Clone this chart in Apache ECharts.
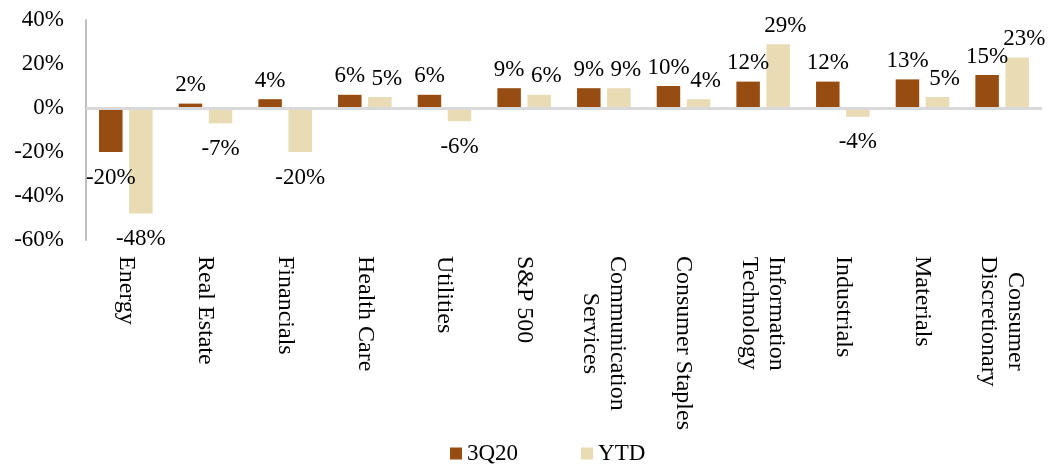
<!DOCTYPE html>
<html>
<head>
<meta charset="utf-8">
<script src="https://cdn.jsdelivr.net/npm/echarts@6/dist/echarts.min.js"></script>
<style>
  html, body { margin: 0; padding: 0; background: #ffffff; }
  #chart { width: 1051px; height: 467px; }
</style>
</head>
<body>
<div id="chart"></div>
<script>
// Sector returns, 3Q20 vs. year-to-date (percent)
const categories = [
  'Energy', 'Real Estate', 'Financials', 'Health Care', 'Utilities', 'S&P 500',
  'Communication\nServices', 'Consumer Staples', 'Information\nTechnology',
  'Industrials', 'Materials', 'Consumer\nDiscretionary'
];
const q3Values  = [-20, 2, 4, 6, 6, 9, 9, 10, 12, 12, 13, 15];
const ytdValues = [-48, -7, -20, 5, -6, 6, 9, 4, 29, -4, 5, 23];
const seriesNames = ['3Q20', 'YTD'];

const FONT = '"Liberation Serif", "Times New Roman", serif';
const TEXT = '#000000';

const chart = echarts.init(document.getElementById('chart'));

function valueLabel() {
  return {
    show: true,
    position: 'top',
    distance: 7,
    fontFamily: FONT,
    fontSize: 23,
    color: TEXT,
    formatter: p => p.value + '%'
  };
}

// Negative values get their label under the bar; positive YTD labels are
// nudged right so they clear the neighbouring 3Q20 label.
function barData(values, positiveShift) {
  return values.map(v => ({
    value: v,
    label: v < 0
      ? { position: 'bottom', distance: 14 }
      : { offset: [positiveShift, 0] }
  }));
}

chart.setOption({
  animation: false,
  backgroundColor: '#ffffff',
  grid: { left: 86, right: 9, top: 20, bottom: 227, containLabel: false },
  legend: {
    left: 445,
    top: 437,
    padding: 5,
    itemWidth: 12,
    itemHeight: 12,
    itemGap: 63,
    icon: 'rect',
    textStyle: { fontFamily: FONT, fontSize: 23, color: TEXT },
    data: seriesNames
  },
  xAxis: {
    type: 'category',
    data: categories,
    axisLine: { show: false, onZero: false },
    axisTick: { show: false },
    axisLabel: {
      interval: 0,
      rotate: -90,
      margin: 16,
      fontFamily: FONT,
      fontSize: 24,
      color: TEXT,
      lineHeight: 27,
      formatter: v => v.split('\n').map(s => '{c|' + s + '}').join('\n'),
      rich: {
        c: { align: 'center', fontFamily: FONT, fontSize: 24, color: TEXT, lineHeight: 27 }
      }
    }
  },
  yAxis: {
    type: 'value',
    min: -60,
    max: 40,
    interval: 20,
    axisLine: { show: true, lineStyle: { color: '#bfbfbf', width: 2 } },
    axisTick: { show: false },
    splitLine: { show: false },
    axisLabel: {
      margin: 22,
      fontFamily: FONT,
      fontSize: 23,
      color: TEXT,
      formatter: v => v + '%'
    }
  },
  series: [
    {
      name: seriesNames[0],
      type: 'bar',
      data: barData(q3Values, 0),
      barWidth: '29.5%',
      barGap: '28%',
      itemStyle: { color: '#974c11' },
      label: valueLabel(),
      markLine: {
        silent: true,
        symbol: ['none', 'none'],
        label: { show: false },
        lineStyle: { color: '#d9d9d9', width: 3, type: 'solid' },
        data: [{ yAxis: 0 }]
      }
    },
    {
      name: seriesNames[1],
      type: 'bar',
      data: barData(ytdValues, 7),
      barWidth: '29.5%',
      itemStyle: { color: '#e9dbb3' },
      label: valueLabel()
    }
  ]
});
</script>
</body>
</html>
